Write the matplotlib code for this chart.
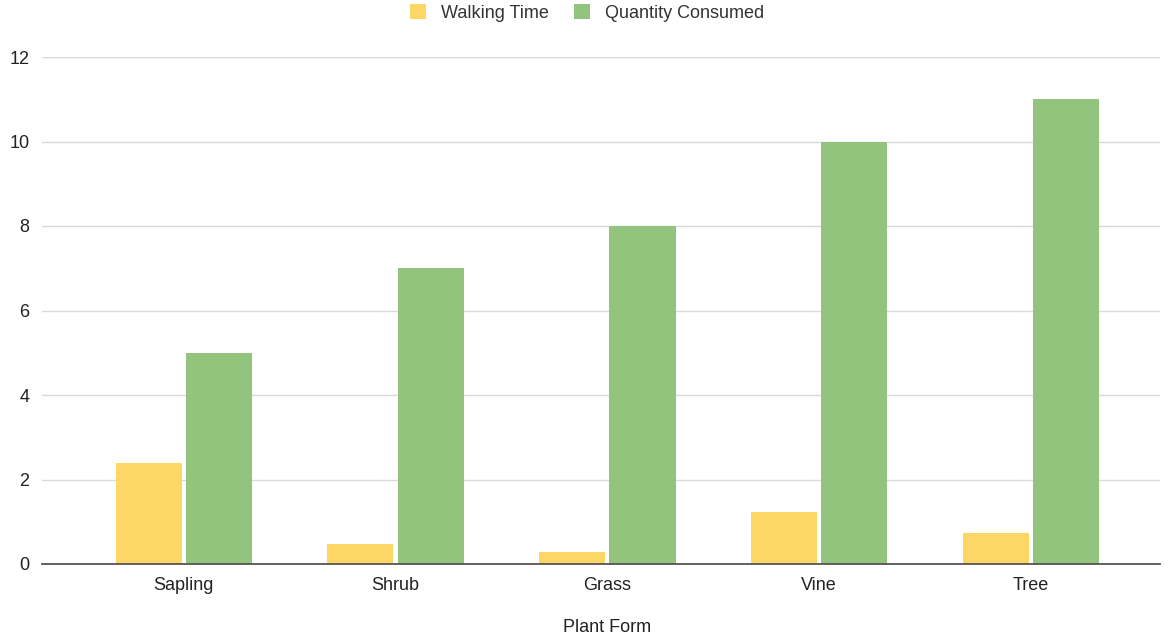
import matplotlib.pyplot as plt
import numpy as np

plt.rcParams['font.family'] = ['Liberation Sans', 'DejaVu Sans']

categories = ["Sapling", "Shrub", "Grass", "Vine", "Tree"]
walking_time = [2.4, 0.47, 0.29, 1.23, 0.73]
quantity_consumed = [5, 7, 8, 10, 11]

yellow = "#FDD766"
green = "#93C47D"

fig = plt.figure(figsize=(11.74, 6.39), dpi=100)
ax = fig.add_axes([42 / 1174, 1 - 564 / 639, (1160 - 42) / 1174, (564 - 57) / 639])

x = np.arange(len(categories))
w = 0.312
off = 0.166
ax.bar(x - off, walking_time, w, color=yellow, label="Walking Time", zorder=3)
ax.bar(x + off, quantity_consumed, w, color=green, label="Quantity Consumed", zorder=3)

ax.set_xlim(-0.67, 4.61)
ax.set_ylim(0, 12)
ax.set_yticks(np.arange(0, 13, 2))
ax.set_xticks(x)
ax.set_xticklabels(categories)

ax.grid(axis='y', color='#d9d9d9', linewidth=1, zorder=0)
for s in ['top', 'right', 'left']:
    ax.spines[s].set_visible(False)
ax.spines['bottom'].set_color('#555555')
ax.spines['bottom'].set_linewidth(1.3)
ax.spines['bottom'].set_zorder(4)
ax.tick_params(axis='both', length=0, labelsize=13, colors='#222222')
ax.tick_params(axis='y', pad=9)
ax.tick_params(axis='x', pad=9)

fig.text(607 / 1174, 1 - 628 / 639, "Plant Form", ha='center', va='center',
         fontsize=13, color='#222222')

fig.legend(loc='center', bbox_to_anchor=(587 / 1174, 1 - 13 / 639), ncol=2,
           frameon=False, fontsize=13, handlelength=0.9, handleheight=0.9,
           handletextpad=0.8, columnspacing=1.4, labelcolor='#333333')

fig.savefig("out.png", dpi=100)
